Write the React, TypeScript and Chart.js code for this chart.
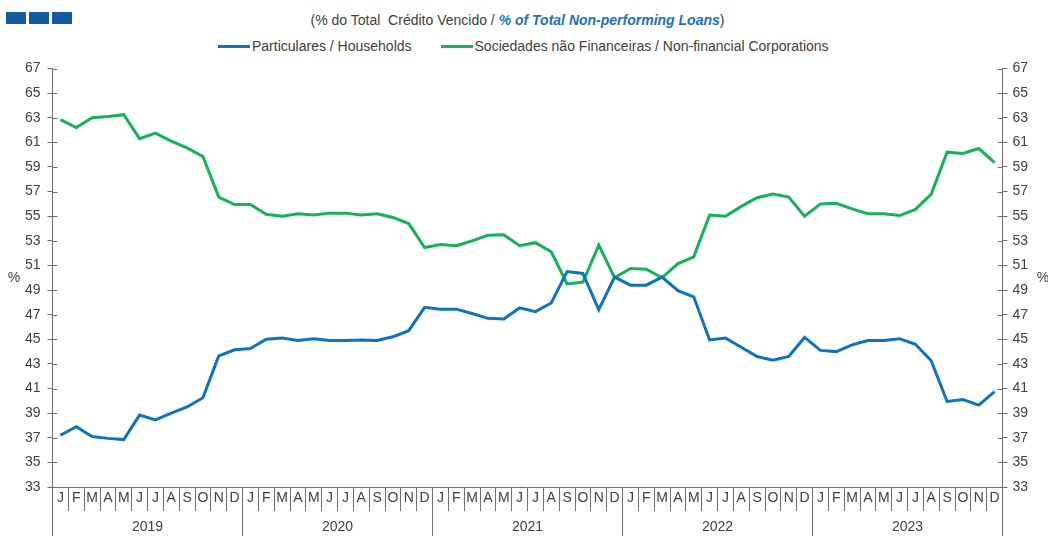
import React, { useEffect, useRef } from 'react';
import { Chart, registerables } from 'chart.js';

Chart.register(...registerables);

const FONT = '"Liberation Sans", Arial, sans-serif';
const TEXT = '#404040';
const AXIS = '#6f6f6f';

const years = ['2019', '2020', '2021', '2022', '2023'];
const monthLetters = ['J', 'F', 'M', 'A', 'M', 'J', 'J', 'A', 'S', 'O', 'N', 'D'];
const monthLabels = years.flatMap(() => monthLetters);

const households = [
  37.2, 37.9, 37.1, 36.95, 36.85, 38.85, 38.45, 39.0, 39.5, 40.25, 43.65, 44.15,
  44.25, 45.0, 45.1, 44.9, 45.05, 44.9, 44.9, 44.95, 44.9, 45.2, 45.7, 47.6,
  47.45, 47.45, 47.1, 46.7, 46.65, 47.55, 47.25, 47.95, 50.5, 50.35, 47.4, 50.05,
  49.4, 49.4, 50.05, 48.95, 48.45, 44.95, 45.1, 44.35, 43.6, 43.3, 43.6, 45.15,
  44.1, 44.0, 44.55, 44.9, 44.9, 45.05, 44.6, 43.25, 39.95, 40.1, 39.65, 40.75,
];

const corporations = [
  62.85, 62.2, 63.0, 63.1, 63.25, 61.3, 61.75, 61.1, 60.55, 59.85, 56.55, 55.95,
  55.95, 55.15, 55.0, 55.2, 55.1, 55.25, 55.25, 55.1, 55.2, 54.9, 54.4, 52.45,
  52.7, 52.6, 53.0, 53.45, 53.5, 52.6, 52.85, 52.1, 49.5, 49.65, 52.65, 50.0,
  50.75, 50.7, 50.0, 51.15, 51.7, 55.1, 55.0, 55.8, 56.5, 56.8, 56.55, 55.0,
  56.0, 56.05, 55.6, 55.2, 55.2, 55.05, 55.55, 56.8, 60.2, 60.1, 60.5, 59.35,
];

const yMin = 33;
const yMax = 67;
const yStep = 2;

const seriesNames = ['Particulares / Households', 'Sociedades não Financeiras / Non-financial Corporations'];
const seriesColors = ['#0C72C4', '#13B456'];

const decorPlugin = {
  id: 'decor',
  afterDraw(chart: any) {
    const ctx = chart.ctx;
    const area = chart.chartArea;
    const y = chart.scales.y;
    ctx.save();
    ctx.strokeStyle = AXIS;
    ctx.lineWidth = 1;
    y.ticks.forEach((t: any) => {
      const p = Math.round(y.getPixelForValue(t.value)) + 0.5;
      ctx.beginPath();
      ctx.moveTo(area.left, p);
      ctx.lineTo(area.left + 5, p);
      ctx.moveTo(area.right - 5, p);
      ctx.lineTo(area.right, p);
      ctx.stroke();
    });
    ctx.fillStyle = TEXT;
    ctx.font = '14px ' + FONT;
    ctx.textAlign = 'center';
    ctx.textBaseline = 'middle';
    const mid = (area.top + area.bottom) / 2;
    ctx.fillText('%', 14, mid);
    ctx.fillText('%', 1043, mid);
    ctx.restore();
  },
};

export default function App() {
  const ref = useRef<HTMLCanvasElement>(null);

  useEffect(() => {
    document.body.style.margin = '0';
    const canvas = ref.current;
    if (!canvas) return;
    const chart = new Chart(canvas, {
      type: 'line',
      data: {
        labels: monthLabels,
        datasets: [
          {
            label: seriesNames[0],
            data: households,
            borderColor: seriesColors[0],
            backgroundColor: seriesColors[0],
            borderWidth: 3,
            pointRadius: 0,
            tension: 0,
            xAxisID: 'x',
            yAxisID: 'y',
          },
          {
            label: seriesNames[1],
            data: corporations,
            borderColor: seriesColors[1],
            backgroundColor: seriesColors[1],
            borderWidth: 3,
            pointRadius: 0,
            tension: 0,
            xAxisID: 'x',
            yAxisID: 'y',
          },
        ],
      },
      options: {
        animation: false,
        responsive: false,
        devicePixelRatio: 1,
        layout: { padding: { top: 68.5, left: 0, right: 0, bottom: 0 } },
        plugins: {
          legend: { display: false },
          title: { display: false },
          tooltip: { enabled: false },
        },
        scales: {
          x: {
            type: 'category',
            position: 'bottom',
            offset: true,
            grid: { display: true, drawOnChartArea: false, offset: true, tickLength: 24, color: AXIS },
            border: { display: true, color: AXIS },
            ticks: { font: { size: 14, family: FONT }, color: TEXT, padding: -21, maxRotation: 0, autoSkip: false },
            afterFit: (s: any) => { s.height = 22; },
          },
          x2: {
            type: 'category',
            position: 'bottom',
            labels: years,
            offset: true,
            grid: { display: true, drawOnChartArea: false, offset: true, tickLength: 30, color: AXIS },
            border: { display: false },
            ticks: { font: { size: 14, family: FONT }, color: TEXT, padding: -20, maxRotation: 0, autoSkip: false },
            afterFit: (s: any) => { s.height = 27; },
          },
          y: {
            position: 'left',
            min: yMin,
            max: yMax,
            grid: { drawOnChartArea: false, tickLength: 5, color: AXIS },
            border: { display: true, color: AXIS },
            ticks: { stepSize: yStep, font: { size: 14, family: FONT }, color: TEXT, padding: 7 },
            afterFit: (s: any) => { s.width = 52.5; },
          },
          y2: {
            position: 'right',
            min: yMin,
            max: yMax,
            grid: { drawOnChartArea: false, tickLength: 5, color: AXIS },
            border: { display: true, color: AXIS },
            ticks: { stepSize: yStep, font: { size: 14, family: FONT }, color: TEXT, padding: 5 },
            afterFit: (s: any) => { s.width = 45.5; },
          },
        },
      } as any,
      plugins: [decorPlugin],
    });
    return () => chart.destroy();
  }, []);

  const square = (left: number) => (
    <div style={{ position: 'absolute', left, top: 12, width: 20, height: 12, background: '#0F5AA0' }} />
  );

  return (
    <div style={{ position: 'relative', width: 1048, height: 536, overflow: 'hidden', fontFamily: FONT, background: '#fff' }}>
      {square(6)}
      {square(29)}
      {square(52)}
      <div
        style={{
          position: 'absolute',
          top: 11,
          left: 0,
          width: 1035,
          textAlign: 'center',
          fontSize: 14,
          lineHeight: '18px',
          color: TEXT,
          whiteSpace: 'pre',
        }}
      >
        {'(% do Total  Crédito Vencido / '}
        <span style={{ fontStyle: 'italic', fontWeight: 'bold', color: '#1F6FBF' }}>% of Total Non-performing Loans</span>
        {')'}
      </div>
      <div
        style={{
          position: 'absolute',
          top: 37,
          left: 218,
          display: 'flex',
          alignItems: 'center',
          fontSize: 14,
          lineHeight: '18px',
          color: TEXT,
          whiteSpace: 'pre',
        }}
      >
        {seriesNames.map((n, i) => (
          <div key={n} style={{ display: 'flex', alignItems: 'center', marginRight: i === 0 ? 29 : 0 }}>
            <span style={{ display: 'inline-block', width: 32, height: 3, background: seriesColors[i], marginRight: 2 }} />
            <span>{n}</span>
          </div>
        ))}
      </div>
      <canvas ref={ref} width={1048} height={536} style={{ position: 'absolute', left: 0, top: 0 }} />
    </div>
  );
}
